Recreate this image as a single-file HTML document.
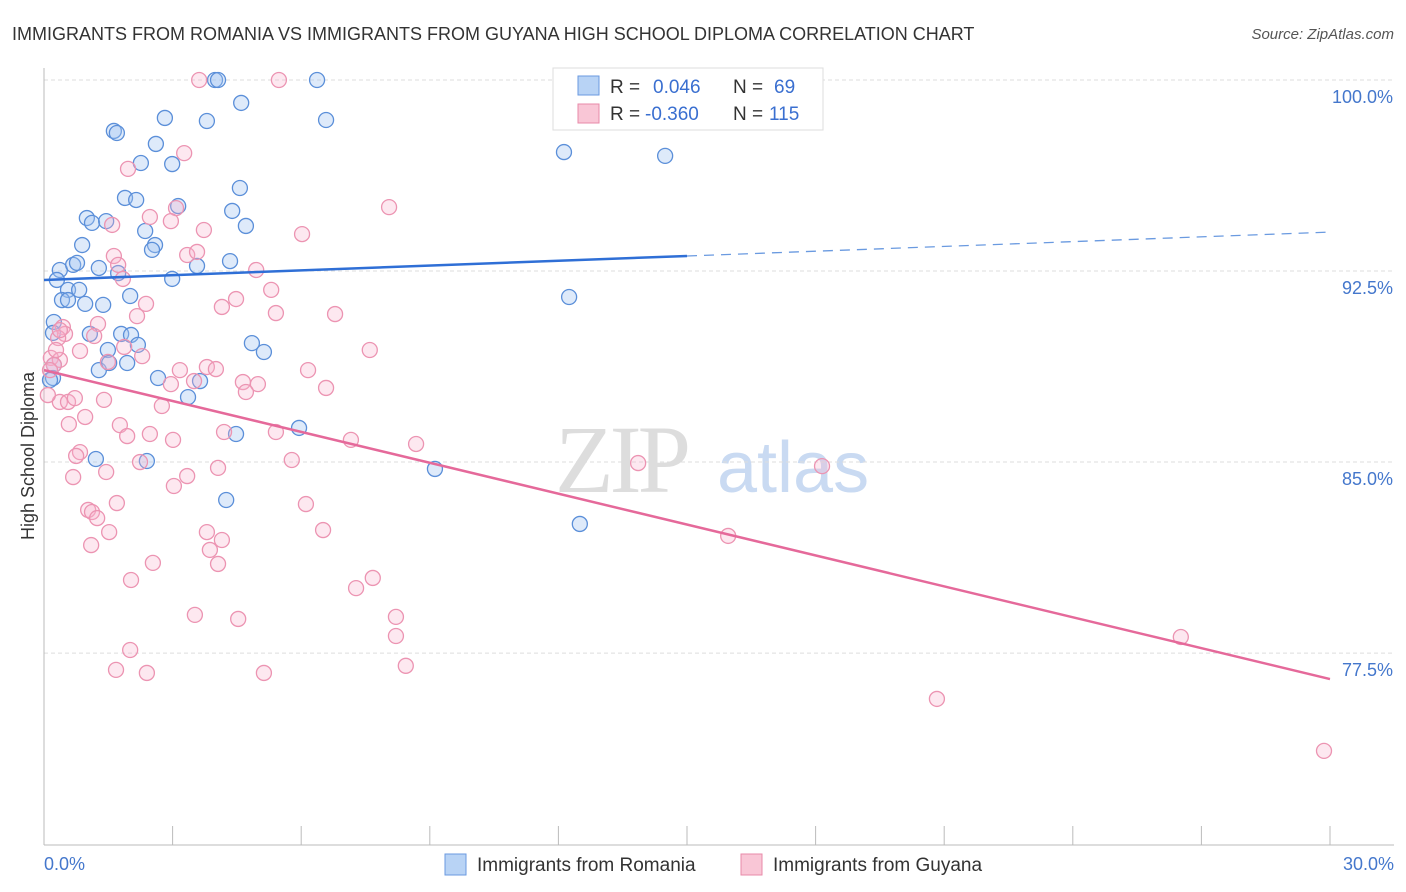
<!DOCTYPE html>
<html><head><meta charset="utf-8"><style>
body{margin:0;background:#fff;font-family:"Liberation Sans",sans-serif}
svg{display:block}
</style></head><body>
<svg width="1406" height="892" xmlns="http://www.w3.org/2000/svg">
<text x="12" y="40" font-size="18" fill="#333">IMMIGRANTS FROM ROMANIA VS IMMIGRANTS FROM GUYANA HIGH SCHOOL DIPLOMA CORRELATION CHART</text>
<text x="1394" y="39" font-size="15" fill="#555" font-style="italic" text-anchor="end">Source: ZipAtlas.com</text>
<g>
<text x="555" y="492" font-size="96" font-family="Liberation Serif" fill="#ddd" letter-spacing="-4">ZIP</text>
<text x="717" y="492" font-size="72" fill="#c9daf2">atlas</text>
</g>
<g id="grid"></g>
<g id="axes"></g>
<g id="pts"></g>
<g id="trend"></g>
<text transform="translate(34,456) rotate(-90)" font-size="18" fill="#333" text-anchor="middle">High School Diploma</text>
<text x="44" y="870" font-size="18" fill="#4477cc">0.0%</text>
<text x="1394" y="870" font-size="18" fill="#4477cc" text-anchor="end">30.0%</text>
<g>
<rect x="553" y="68" width="270" height="62" fill="#fff" stroke="#ddd"/>
<rect x="578" y="76" width="21" height="19" fill="#b8d3f5" stroke="#6a9ae0"/>
<rect x="578" y="104" width="21" height="19" fill="#f9c6d6" stroke="#e88aa8"/>
<text x="610" y="93" font-size="19" fill="#333">R = </text><text x="653" y="93" font-size="19" fill="#3a6fd0">0.046</text>
<text x="733" y="93" font-size="19" fill="#333">N = </text><text x="774" y="93" font-size="19" fill="#3a6fd0">69</text>
<text x="610" y="120" font-size="19" fill="#333">R = </text><text x="645" y="120" font-size="19" fill="#3a6fd0">-0.360</text>
<text x="733" y="120" font-size="19" fill="#333">N = </text><text x="769" y="120" font-size="19" fill="#3a6fd0">115</text>
</g>
<g>
<rect x="445" y="854" width="21" height="21" fill="#b8d3f5" stroke="#6a9ae0"/>
<text x="477" y="871" font-size="19" fill="#333">Immigrants from Romania</text>
<rect x="741" y="854" width="21" height="21" fill="#f9c6d6" stroke="#e88aa8"/>
<text x="773" y="871" font-size="19" fill="#333">Immigrants from Guyana</text>
</g>
</svg>
<script>
const yTicks=[100,92.5,85,77.5];
const yTickLabels=["100.0%","92.5%","85.0%","77.5%"];
const xTicks=[0,3,6,9,12,15,18,21,24,27,30];
const blueX=[3.99,4.06,6.37,4.60,2.82,3.80,6.58,1.63,1.70,2.61,2.26,2.99,12.13,14.49,4.57,1.89,2.15,3.13,4.39,1.00,1.12,1.45,4.71,2.36,0.89,2.59,2.52,4.34,3.57,2.99,0.37,0.68,0.77,1.28,1.73,0.30,0.56,0.82,0.42,0.56,0.96,1.38,2.01,12.25,0.23,1.07,1.80,2.03,0.21,1.49,2.19,4.85,5.13,1.28,1.94,1.52,0.23,0.21,2.66,3.64,3.36,4.48,5.95,1.21,2.40,9.12,4.25,12.50,0.14];
const blueY=[100,100,100,99.10,98.51,98.39,98.43,98.0,97.92,97.49,96.74,96.70,97.17,97.02,95.76,95.37,95.29,95.05,94.86,94.58,94.39,94.46,94.27,94.07,93.52,93.52,93.33,92.89,92.70,92.19,92.54,92.74,92.82,92.62,92.42,92.15,91.76,91.76,91.36,91.36,91.21,91.17,91.52,91.48,90.50,90.03,90.03,89.99,90.07,89.40,89.60,89.67,89.32,88.61,88.89,88.89,88.81,88.30,88.30,88.18,87.55,86.10,86.34,85.12,85.04,84.73,83.51,82.57,88.22];
const pinkX=[3.62,5.48,3.27,1.96,3.08,8.05,2.47,1.59,2.96,3.73,6.02,3.34,3.57,1.63,1.73,4.95,1.84,5.30,4.48,2.38,4.15,5.41,6.79,2.17,0.44,1.26,0.49,0.33,1.17,1.87,0.84,2.29,7.60,1.49,0.16,0.37,0.23,3.17,3.80,4.01,6.16,4.64,4.99,3.50,2.96,6.58,4.71,1.40,0.37,0.56,0.72,2.75,0.96,0.58,1.77,4.20,5.41,1.94,2.47,3.01,7.16,8.68,0.84,2.24,0.75,5.78,4.06,1.45,0.68,3.34,3.03,13.86,18.15,1.70,6.11,1.03,1.12,1.24,1.52,6.51,3.80,4.15,1.10,3.87,2.54,4.06,7.67,2.03,7.28,8.21,3.52,4.53,8.21,2.01,15.96,26.52,1.68,2.40,5.13,8.44,20.83,29.86,0.14,0.09,0.37,0.28];
const pinkY=[100,100,97.13,96.51,94.97,95.01,94.62,94.31,94.46,94.11,93.95,93.13,93.25,93.09,92.74,92.54,92.19,91.76,91.40,91.21,91.09,90.85,90.81,90.73,90.30,90.42,90.03,89.87,89.95,89.52,89.36,89.16,89.40,88.93,89.09,89.01,88.81,88.61,88.73,88.65,88.61,88.14,88.06,88.18,88.06,87.91,87.75,87.44,87.36,87.36,87.51,87.20,86.77,86.49,86.45,86.18,86.18,86.02,86.10,85.87,85.87,85.71,85.39,85.00,85.24,85.08,84.77,84.61,84.41,84.45,84.06,84.96,84.84,83.39,83.35,83.12,83.04,82.80,82.25,82.33,82.25,81.94,81.74,81.55,81.04,81.00,80.45,80.37,80.05,78.92,79.00,78.84,78.17,77.62,82.10,78.13,76.84,76.72,76.72,77.00,75.70,73.66,88.61,87.63,90.18,89.40];
const blueTrend=[92.15,94.03];
const pinkTrend=[88.61,76.48];
const NS="http://www.w3.org/2000/svg";
const X0=44,X1=1330,Y100=80,YPER=25.47;
const sx=v=>X0+(v/30)*(X1-X0);
const sy=v=>Y100+(100-v)*YPER;
function mk(tag,attrs,parent){const e=document.createElementNS(NS,tag);for(const k in attrs)e.setAttribute(k,attrs[k]);document.getElementById(parent).appendChild(e);return e;}
yTicks.forEach((t,i)=>{
 const l=mk('line',{x1:X0,x2:1394,y1:sy(t),y2:sy(t),stroke:'#ddd','stroke-dasharray':'4,3'},'grid');
 
 
 const tx=mk('text',{x:1393,y:sy(t)+23,'font-size':18,fill:'#4477cc','text-anchor':'end'},'grid');
 tx.textContent=yTickLabels[i];
 
 
});
const ya=mk('line',{x1:X0,x2:X0,y1:68,y2:845,stroke:'#bbb'},'axes');


const xa=mk('line',{x1:X0,x2:1394,y1:845,y2:845,stroke:'#bbb'},'axes');


xTicks.forEach(t=>{
 const l=mk('line',{x1:sx(t),x2:sx(t),y1:826,y2:845,stroke:'#bbb'},'axes');
 
 
});
blueX.forEach((v,i)=>{
 const c=mk('circle',{cx:sx(v),cy:sy(blueY[i]),r:7.5,fill:'rgba(160,195,240,0.35)',stroke:'#5b8fd9','stroke-width':1.3},'pts');
 
 
});
pinkX.forEach((v,i)=>{
 const c=mk('circle',{cx:sx(v),cy:sy(pinkY[i]),r:7.5,fill:'rgba(248,180,205,0.3)',stroke:'#ec94b2','stroke-width':1.3},'pts');
 
 
});
const bm=blueTrend[0]+(blueTrend[1]-blueTrend[0])*0.5;
const b1=mk('line',{x1:sx(0),y1:sy(blueTrend[0]),x2:sx(15),y2:sy(bm),stroke:'#2f6fd6','stroke-width':2.5},'trend');


const b2=mk('line',{x1:sx(15),y1:sy(bm),x2:sx(30),y2:sy(blueTrend[1]),stroke:'#6a9ae0','stroke-width':1.3,'stroke-dasharray':'10,7'},'trend');


const p1=mk('line',{x1:sx(0),y1:sy(pinkTrend[0]),x2:sx(30),y2:sy(pinkTrend[1]),stroke:'#e5699a','stroke-width':2.5},'trend');


</script>
</body></html>
